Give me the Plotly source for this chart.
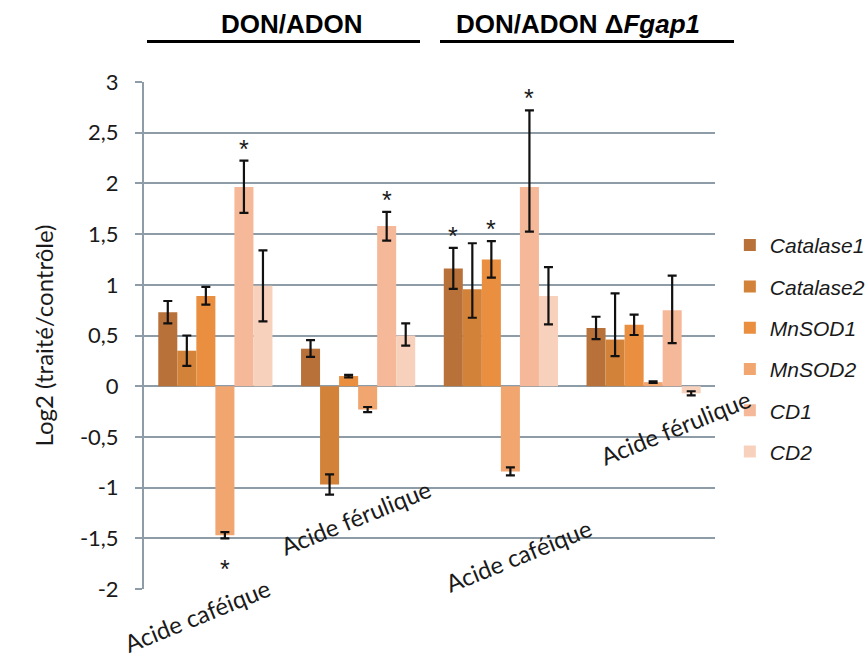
import plotly.graph_objects as go

# Expression data: log2 (treated / control), four conditions
treatments = ["Acide caféique", "Acide férulique", "Acide caféique", "Acide férulique"]
strains = ["DON/ADON", "DON/ADON ΔFgap1"]

genes = ["Catalase1", "Catalase2", "MnSOD1", "MnSOD2", "CD1", "CD2"]

catalase1 = [0.73, 0.37, 1.16, 0.575]
catalase2 = [0.35, -0.97, 0.955, 0.46]
mnsod1 = [0.89, 0.10, 1.25, 0.605]
mnsod2 = [-1.47, -0.23, -0.84, 0.04]
cd1 = [1.965, 1.58, 1.965, 0.75]
cd2 = [0.99, 0.50, 0.89, -0.07]

catalase1_err_up = [0.11, 0.085, 0.205, 0.11]
catalase1_err_dn = [0.11, 0.08, 0.20, 0.11]
catalase2_err_up = [0.15, 0.10, 0.455, 0.455]
catalase2_err_dn = [0.15, 0.10, 0.28, 0.163]
mnsod1_err_up = [0.09, 0.012, 0.18, 0.10]
mnsod1_err_dn = [0.085, 0.012, 0.18, 0.10]
mnsod2_err_up = [0.03, 0.025, 0.04, 0.008]
mnsod2_err_dn = [0.03, 0.025, 0.04, 0.008]
cd1_err_up = [0.26, 0.14, 0.755, 0.34]
cd1_err_dn = [0.255, 0.145, 0.44, 0.325]
cd2_err_up = [0.35, 0.12, 0.285, 0.02]
cd2_err_dn = [0.35, 0.10, 0.28, 0.02]

# significance stars: (condition index, gene name)
stars = [(0, "CD1"), (0, "MnSOD2"), (1, "CD1"), (2, "Catalase1"), (2, "MnSOD1"), (2, "CD1")]

y_tickvals = [-2, -1.5, -1, -0.5, 0, 0.5, 1, 1.5, 2, 2.5, 3]
y_ticktext = ["-2", "-1,5", "-1", "-0,5", "0", "0,5", "1", "1,5", "2", "2,5", "3"]

values = [catalase1, catalase2, mnsod1, mnsod2, cd1, cd2]
err_up = [catalase1_err_up, catalase2_err_up, mnsod1_err_up, mnsod2_err_up, cd1_err_up, cd2_err_up]
err_dn = [catalase1_err_dn, catalase2_err_dn, mnsod1_err_dn, mnsod2_err_dn, cd1_err_dn, cd2_err_dn]
colors = ["#b9713a", "#d3823a", "#e98f3f", "#f1a56f", "#f5b898", "#f8d1bd"]

GRID = "#8d9ca6"
TEXT = "#1a1a1a"
x_idx = list(range(len(treatments)))

fig = go.Figure()
for g, v, eu, ed, c in zip(genes, values, err_up, err_dn, colors):
    fig.add_trace(go.Bar(
        x=x_idx, y=v, name=f"<i>{g}</i>", marker=dict(color=c, line=dict(width=0)),
        legendgroup=g,
        error_y=dict(type="data", symmetric=False, array=eu, arrayminus=ed,
                     color="#111111", thickness=2.2, width=4.5),
    ))

n = len(genes)
bargap = 0.2
slot = (1 - bargap) / n

annotations = []
for ci, g in stars:
    gi = genes.index(g)
    v = values[gi][ci]
    xpos = ci - (1 - bargap) / 2 + slot * (gi + 0.5)
    if v >= 0:
        annotations.append(dict(x=xpos, y=v + err_up[gi][ci], xref="x", yref="y", text="*",
                                showarrow=False, yanchor="bottom", yshift=-4,
                                font=dict(family="Liberation Sans", size=25, color=TEXT)))
    else:
        annotations.append(dict(x=xpos, y=v - err_dn[gi][ci], xref="x", yref="y", text="*",
                                showarrow=False, yanchor="top", yshift=-15,
                                font=dict(family="Liberation Sans", size=25, color=TEXT)))

# rotated condition labels (paper coordinates, staggered)
label_pos = [(0.093, -0.053), (0.37, 0.142), (0.655, 0.067), (0.93, 0.318)]
for t, (lx, ly) in zip(treatments, label_pos):
    annotations.append(dict(x=lx, y=ly, xref="paper", yref="paper", text=t, showarrow=False,
                            textangle=-22, xanchor="center", yanchor="middle",
                            font=dict(family="Lato", size=24, color=TEXT)))

# strain headers
header_x = [(292 - 144) / 571, (578 - 144) / 571]
header_txt = ["<b>DON/ADON</b>", "<b>DON/ADON Δ<i>Fgap1</i></b>"]
for hx, ht in zip(header_x, header_txt):
    annotations.append(dict(x=hx, y=1.115, xref="paper", yref="paper", text=ht, showarrow=False,
                            xanchor="center", yanchor="middle",
                            font=dict(family="Liberation Sans", size=26, color="#000000")))

shapes = [
    dict(type="line", xref="paper", yref="paper", x0=(147 - 144) / 571, x1=(420 - 144) / 571,
         y0=1.08, y1=1.08, line=dict(color="#000000", width=3)),
    dict(type="line", xref="paper", yref="paper", x0=(440 - 144) / 571, x1=(734 - 144) / 571,
         y0=1.08, y1=1.08, line=dict(color="#000000", width=3)),
]

fig.update_layout(
    width=868, height=662,
    margin=dict(l=144, r=153, t=82, b=73, autoexpand=False),
    paper_bgcolor="white", plot_bgcolor="white",
    barmode="group", bargap=bargap, bargroupgap=0,
    showlegend=True,
    legend=dict(x=1.026, y=0.718, xanchor="left", yanchor="top",
                font=dict(family="Liberation Sans", size=21, color=TEXT),
                tracegroupgap=11, bgcolor="rgba(0,0,0,0)"),
    annotations=annotations,
    shapes=shapes,
    xaxis=dict(range=[-0.5, 3.5], showticklabels=False, ticks="", showgrid=False,
               zeroline=False, showline=False),
    yaxis=dict(range=[-2, 3], tickvals=y_tickvals, ticktext=y_ticktext,
               showgrid=True, gridcolor=GRID, gridwidth=2,
               zeroline=True, zerolinecolor=GRID, zerolinewidth=2,
               showline=True, linecolor=GRID, linewidth=2,
               ticks="outside", ticklen=7, tickcolor=GRID, tickwidth=2,
               ticklabelstandoff=12,
               tickfont=dict(family="Lato", size=22, color=TEXT),
               title=dict(text="Log2 (traité/contrôle)", standoff=20,
                          font=dict(family="Lato", size=24, color=TEXT))),
)

fig.write_html("out.html")
